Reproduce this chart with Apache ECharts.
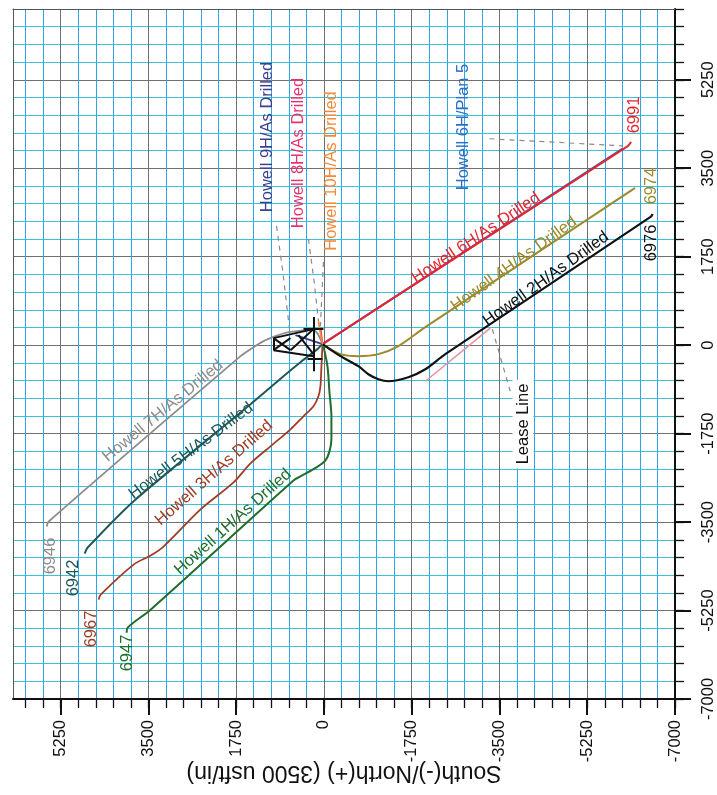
<!DOCTYPE html>
<html><head><meta charset="utf-8">
<script src="https://cdn.jsdelivr.net/npm/echarts@6/dist/echarts.min.js"></script>
<style>html,body{margin:0;padding:0;background:#fff}#c{width:717px;height:795px}</style>
</head><body><div id="c"></div>
<script>
// ---- axis setup (usft) ----
const nsMin = -7000, nsMax = 6200;      // South(-)/North(+) horizontal axis (inverted)
const ewMin = -7000, ewMax = 6650;      // West(-)/East(+) vertical axis (right side)
const majorStep = 1750, minorStep = 350;
const majorTickValues = [-7000,-5250,-3500,-1750,0,1750,3500,5250];
const nsAxisName = 'South(-)/North(+) (3500 usft/in)';

// ---- well paths: [North, East] ----
const howell6H_drilled = [[30,20],[-6066,3944],[-6125,4023]];
const howell6H_plan5   = [[30,20],[-5946,3885]];
const howell4H_drilled = [[30,20],[-329,-178],[-687,-218],[-1086,-178],[-1484,-20],[-2022,357],[-6145,3072],[-6205,3112]];
const howell2H_drilled = [[30,20],[-329,-218],[-687,-416],[-886,-575],[-1086,-674],[-1285,-714],[-1683,-634],[-2022,-476],[-2420,-178],[-6513,2537],[-6553,2596]];
const howell7H_drilled = [[30,20],[209,297],[707,258],[966,178],[1205,79],[1464,-79],[1663,-218],[5488,-3488],[5528,-3587]];
const howell5H_drilled = [[30,20],[130,-79],[468,-337],[807,-614],[1464,-1169],[3755,-3052],[4711,-4004],[4771,-4123]];
const howell3H_drilled = [[30,-20],[50,-416],[70,-813],[110,-1011],[209,-1209],[408,-1407],[667,-1665],[1066,-2002],[1464,-2339],[1803,-2715],[2460,-3250],[3197,-3984],[3456,-4162],[3795,-4341],[4452,-4936],[4492,-5034]];
const howell1H_drilled = [[10,-20],[-70,-416],[-110,-932],[-149,-1407],[-149,-1863],[-110,-2101],[-30,-2279],[149,-2418],[468,-2596],[608,-2676],[3456,-5232],[3914,-5589],[3934,-5688]];
const howell9H_drilled = [[30,20],[568,198]];
const howell8H_drilled = [[30,20],[70,357]];
const howell10H_drilled = [[30,20],[110,476]];
const leaseLine = [[-2022,-714],[-3317,337]];

// leader (dashed) lines
const leader9H = [[946,2359],[827,1506],[687,317]];
const leader8H = [[309,2101],[189,1209],[110,476]];
const leader10H = [[10,1645],[70,377]];
const leaderPlan5 = [[-3300,4083],[-5946,3944]];
const leaderLease = [[-3357,317],[-3715,-912]];

// pad / slot frame segments
const padFrame = [
  [[1006,139],[209,317]],
  [[1006,-99],[209,-218]],
  [[1006,139],[1006,-99]],
  [[1006,139],[667,-99]],
  [[1006,-99],[667,139]],
  [[667,-99],[209,317]],
  [[508,198],[209,-178]],
  [[209,555],[209,-515]],
  [[408,317],[10,317]],
  [[329,-277],[30,-277]]
];

// ---- text labels ----
const wellNames = ['Howell 6H/As Drilled','Howell 4H/As Drilled','Howell 2H/As Drilled','Howell 7H/As Drilled','Howell 5H/As Drilled','Howell 3H/As Drilled','Howell 1H/As Drilled','Howell 9H/As Drilled','Howell 8H/As Drilled','Howell 10H/As Drilled','Howell 6H/Plan 5','Lease Line'];
const endDepths = ['6991','6974','6976','6946','6942','6967','6947'];

const FONT = '"Liberation Sans", Arial, Helvetica, sans-serif';
const C = {
  red:'#E8232E', blue:'#2A6FC8', olive:'#9C8A2C', black:'#111111', grey:'#8C8C8C',
  teal:'#1E5858', brown:'#A03C24', green:'#1F6E2A', navy:'#3B3F8F', pink:'#E8336E', orange:'#F08A3A', lease:'#E8909E'
};
const GRID_MAJOR = '#707070', GRID_V = '#2BA6E6', GRID_H = '#3CC3DC';

const labelLayout = [
  {t:wellNames[0], x:476, y:238, a:33.7, c:C.red},
  {t:wellNames[1], x:514, y:264, a:35.7, c:C.olive},
  {t:wellNames[2], x:546, y:279, a:35.6, c:C.black},
  {t:wellNames[3], x:163, y:411, a:39.5, c:C.grey},
  {t:wellNames[4], x:191, y:451, a:36.7, c:C.teal},
  {t:wellNames[5], x:214, y:473, a:41.3, c:C.brown},
  {t:wellNames[6], x:233, y:522, a:41.8, c:C.green},
  {t:wellNames[7], x:267, y:137, a:90, c:C.navy},
  {t:wellNames[8], x:298, y:153, a:90, c:C.pink},
  {t:wellNames[9], x:331, y:171, a:90, c:C.orange},
  {t:wellNames[10], x:463, y:127, a:90, c:C.blue},
  {t:wellNames[11], x:523, y:424, a:90, c:C.black, bg:true},
  {t:endDepths[0], x:634, y:115, a:90, c:C.red},
  {t:endDepths[1], x:651, y:186, a:90, c:C.olive},
  {t:endDepths[2], x:651, y:243, a:90, c:C.black},
  {t:endDepths[3], x:50, y:556, a:90, c:C.grey},
  {t:endDepths[4], x:73, y:578, a:90, c:C.teal},
  {t:endDepths[5], x:91, y:629, a:90, c:C.brown},
  {t:endDepths[6], x:127, y:653, a:90, c:C.green}
];

function stepValues(min, max, step) {
  const out = [];
  for (let v = min; v <= max; v += step) out.push(v);
  return out;
}
const nsMinorTicks = stepValues(nsMin, nsMax, minorStep);
const ewMinorTicks = stepValues(ewMin, ewMax, minorStep);
const gridColors = (c) => [GRID_MAJOR, c, c, c, c];

function well(name, data, color, width, smooth, z) {
  return {type:'line', name, data, xAxisIndex:1, yAxisIndex:1, showSymbol:false, symbol:'none',
    smooth: smooth, lineStyle:{color, width}, z: z || 3, silent:true};
}
function dashed(data) {
  return {type:'line', data, xAxisIndex:1, yAxisIndex:1, showSymbol:false, symbol:'none',
    lineStyle:{color:'#8A8A8A', width:1.2, type:[5,5]}, z:2, silent:true};
}

const series = [
  dashed(leader9H), dashed(leader8H), dashed(leader10H), dashed(leaderPlan5), dashed(leaderLease),
  well('Lease Line', leaseLine, C.lease, 1.6, false, 2),
  well('Howell 6H/Plan 5', howell6H_plan5, C.blue, 2, false, 3),
  well('Howell 6H/As Drilled', howell6H_drilled, C.red, 2, false, 4),
  well('Howell 4H/As Drilled', howell4H_drilled, C.olive, 2, 0.3, 4),
  well('Howell 2H/As Drilled', howell2H_drilled, C.black, 2.2, 0.3, 4),
  well('Howell 7H/As Drilled', howell7H_drilled, C.grey, 1.8, 0.3, 4),
  well('Howell 5H/As Drilled', howell5H_drilled, C.teal, 2, 0.2, 4),
  well('Howell 3H/As Drilled', howell3H_drilled, C.brown, 1.8, 0.3, 4),
  well('Howell 1H/As Drilled', howell1H_drilled, C.green, 2, 0.3, 4),
  well('Howell 9H/As Drilled', howell9H_drilled, C.navy, 1.8, false, 5),
  well('Howell 8H/As Drilled', howell8H_drilled, C.pink, 1.8, false, 5),
  well('Howell 10H/As Drilled', howell10H_drilled, C.orange, 1.8, false, 5),
  {type:'lines', coordinateSystem:'cartesian2d', xAxisIndex:1, yAxisIndex:1, silent:true, z:6,
   lineStyle:{color:'#111', width:2, opacity:1},
   data: padFrame.map(s => ({coords:s}))}
];

const labelFmt = v => String(v);

const option = {
  animation:false,
  backgroundColor:'#ffffff',
  grid:{left:13, right:42, top:9, bottom:96, show:false},
  xAxis:[
    // fine grid (every 350) with darker line every 1750
    {type:'value', min:nsMin, max:nsMax, inverse:true, interval:minorStep, position:'bottom',
     axisLine:{show:false, onZero:false}, axisLabel:{show:false},
     axisTick:{show:true, length:9, customValues:nsMinorTicks, lineStyle:{color:'#111', width:1.3}},
     splitLine:{show:true, lineStyle:{color:gridColors(GRID_V), width:1}}},
    // labelled axis
    {type:'value', min:nsMin, max:nsMax, inverse:true, interval:majorStep, position:'bottom',
     axisLine:{show:true, onZero:false, lineStyle:{color:'#111', width:2}},
     axisTick:{show:true, length:16, customValues:majorTickValues, lineStyle:{color:'#111', width:2}},
     axisLabel:{rotate:90, margin:21, fontSize:16.5, color:'#111', fontFamily:FONT,
                customValues:majorTickValues, formatter:labelFmt},
     splitLine:{show:false},
     name:nsAxisName, nameLocation:'middle', nameRotate:180, nameGap:62, nameMoveOverlap:false,
     nameTextStyle:{fontSize:23, color:'#111', fontFamily:FONT}},
    // top border
    {type:'value', min:nsMin, max:nsMax, inverse:true, position:'top',
     axisLine:{show:true, onZero:false, lineStyle:{color:'#555', width:1}},
     axisTick:{show:false}, axisLabel:{show:false}, splitLine:{show:false}}
  ],
  yAxis:[
    {type:'value', min:ewMin, max:ewMax, interval:minorStep, position:'right',
     axisLine:{show:false, onZero:false}, axisLabel:{show:false},
     axisTick:{show:true, length:9, customValues:ewMinorTicks, lineStyle:{color:'#111', width:1.3}},
     splitLine:{show:true, lineStyle:{color:gridColors(GRID_H), width:1}}},
    {type:'value', min:ewMin, max:ewMax, interval:majorStep, position:'right',
     axisLine:{show:true, onZero:false, lineStyle:{color:'#111', width:2}},
     axisTick:{show:true, length:16, customValues:majorTickValues, lineStyle:{color:'#111', width:2}},
     axisLabel:{rotate:90, margin:25, fontSize:16.5, color:'#111', fontFamily:FONT,
                customValues:majorTickValues, formatter:labelFmt},
     splitLine:{show:false}},
    // left border
    {type:'value', min:ewMin, max:ewMax, position:'left',
     axisLine:{show:true, onZero:false, lineStyle:{color:'#555', width:1}},
     axisTick:{show:false}, axisLabel:{show:false}, splitLine:{show:false}}
  ],
  series,
  graphic: labelLayout.map(l => ({
    type:'text', x:l.x, y:l.y, rotation:l.a*Math.PI/180, z:100, silent:true,
    style:Object.assign({text:l.t, fill:l.c, fontSize:16.5, fontFamily:FONT, align:'center', verticalAlign:'middle'},
      l.bg ? {backgroundColor:'#fff', padding:[2,4]} : {})
  }))
};

const chart = echarts.init(document.getElementById('c'), null, {renderer:'canvas'});
chart.setOption(option);
</script>
</body></html>
